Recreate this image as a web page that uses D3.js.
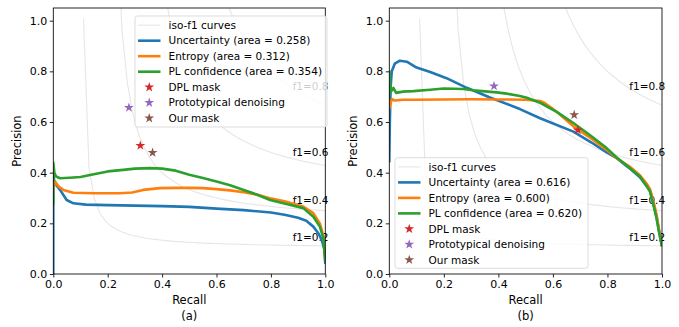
<!DOCTYPE html>
<html><head><meta charset="utf-8">
<script src="https://cdn.jsdelivr.net/npm/d3@7/dist/d3.min.js"></script>
<style>body{margin:0;background:#fff}svg{display:block}text{font-family:"DejaVu Sans",sans-serif}</style>
</head><body><svg id="c" width="679" height="327"></svg>
<script>
// ---------- data ----------
const tickValues = [0.0, 0.2, 0.4, 0.6, 0.8, 1.0];
const isoF1Values = [0.2, 0.4, 0.6, 0.8];
const seriesNames = ["Uncertainty", "Entropy", "PL confidence"];
const markerNames = ["DPL mask", "Prototypical denoising", "Our mask"];
const areasA = [0.258, 0.312, 0.354];
const areasB = [0.616, 0.600, 0.620];

// panel (a)
const recA_unc = [0, 0, 0.003, 0.012, 0.025, 0.049, 0.074, 0.12, 0.2, 0.3, 0.4, 0.5, 0.6, 0.7, 0.8, 0.85, 0.9, 0.93, 0.956, 0.975, 0.987, 0.997, 1.0];
const preA_unc = [0.0, 0.39, 0.37, 0.35, 0.332, 0.292, 0.279, 0.274, 0.272, 0.27, 0.268, 0.265, 0.258, 0.252, 0.243, 0.234, 0.222, 0.21, 0.187, 0.16, 0.134, 0.095, 0.04];
const recA_ent = [0, 0.003, 0.006, 0.02, 0.037, 0.074, 0.15, 0.245, 0.29, 0.33, 0.392, 0.45, 0.5, 0.55, 0.6, 0.65, 0.7, 0.75, 0.797, 0.85, 0.919, 0.956, 0.98, 0.993, 1.0];
const preA_ent = [0.33, 0.35, 0.365, 0.345, 0.332, 0.321, 0.319, 0.319, 0.322, 0.332, 0.339, 0.34, 0.34, 0.339, 0.335, 0.33, 0.323, 0.313, 0.299, 0.287, 0.266, 0.24, 0.2, 0.15, 0.06];
const recA_pl  = [0, 0, 0.004, 0.01, 0.025, 0.06, 0.1, 0.135, 0.2, 0.257, 0.3, 0.355, 0.4, 0.45, 0.5, 0.55, 0.6, 0.65, 0.7, 0.75, 0.797, 0.85, 0.919, 0.956, 0.98, 0.993, 1.0];
const preA_pl  = [0.27, 0.44, 0.40, 0.385, 0.378, 0.38, 0.383, 0.391, 0.405, 0.411, 0.416, 0.418, 0.416, 0.408, 0.392, 0.379, 0.365, 0.35, 0.332, 0.313, 0.292, 0.278, 0.26, 0.226, 0.187, 0.14, 0.05];
const markerRecA = [0.32, 0.278, 0.365];
const markerPreA = [0.507, 0.657, 0.479];

// panel (b)
const recB_unc = [0, 0.002, 0.005, 0.009, 0.02, 0.039, 0.064, 0.1, 0.15, 0.21, 0.284, 0.369, 0.479, 0.553, 0.675, 0.74, 0.797, 0.834, 0.88, 0.919, 0.945, 0.956, 0.968, 0.98, 0.99, 1.0];
const preB_unc = [0.44, 0.6, 0.74, 0.8, 0.83, 0.842, 0.838, 0.815, 0.797, 0.773, 0.735, 0.697, 0.651, 0.615, 0.562, 0.52, 0.48, 0.457, 0.418, 0.382, 0.345, 0.33, 0.28, 0.225, 0.165, 0.11];
const recB_ent = [0, 0.003, 0.01, 0.02, 0.05, 0.1, 0.2, 0.3, 0.4, 0.5, 0.553, 0.57, 0.614, 0.675, 0.74, 0.797, 0.834, 0.88, 0.919, 0.945, 0.956, 0.968, 0.98, 0.99, 1.0];
const preB_ent = [0.65, 0.67, 0.69, 0.685, 0.688, 0.688, 0.689, 0.69, 0.689, 0.688, 0.683, 0.675, 0.64, 0.583, 0.535, 0.49, 0.457, 0.425, 0.39, 0.355, 0.335, 0.29, 0.235, 0.17, 0.11];
const recB_pl  = [0, 0, 0.005, 0.01, 0.015, 0.025, 0.05, 0.088, 0.15, 0.2, 0.271, 0.308, 0.394, 0.43, 0.479, 0.504, 0.553, 0.614, 0.675, 0.74, 0.797, 0.834, 0.88, 0.919, 0.945, 0.956, 0.968, 0.98, 0.99, 1.0];
const preB_pl  = [0.69, 0.80, 0.72, 0.725, 0.735, 0.715, 0.72, 0.722, 0.727, 0.732, 0.73, 0.725, 0.717, 0.712, 0.703, 0.696, 0.676, 0.64, 0.596, 0.545, 0.497, 0.46, 0.42, 0.385, 0.345, 0.325, 0.275, 0.22, 0.16, 0.11];
const markerRecB = [0.691, 0.384, 0.678];
const markerPreB = [0.568, 0.742, 0.628];

// ---------- styles / layout ----------
const lineColors = ["#1f77b4", "#ff7f0e", "#2ca02c"];
const markerColors = ["#d62728", "#9467bd", "#8c564b"];
const isoColor = "rgba(128,128,128,0.2)";
const FS = 10.5, TFS = 11, LFS = 11.5;

const panels = [
  { id: "a", left: 53.3, right: 325.3, top: 8, bottom: 274,
    series: [[recA_unc, preA_unc], [recA_ent, preA_ent], [recA_pl, preA_pl]], areas: areasA,
    mRec: markerRecA, mPre: markerPreA,
    legend: { x: 135, y: 16, w: 192, h: 111 }, ylab: 16.5, xlabX: 189.3 },
  { id: "b", left: 389.3, right: 662, top: 8, bottom: 274,
    series: [[recB_unc, preB_unc], [recB_ent, preB_ent], [recB_pl, preB_pl]], areas: areasB,
    mRec: markerRecB, mPre: markerPreB,
    legend: { x: 395, y: 157.7, w: 193, h: 110.6 }, ylab: 353, xlabX: 525.6 }
];

const svg = d3.select("#c");
const star = d3.symbol().type(d3.symbolStar).size(30);

panels.forEach((p, pi) => {
  const x = d3.scaleLinear().domain([0, 1]).range([p.left, p.right]);
  const y = d3.scaleLinear().domain([0, 1.05]).range([p.bottom, p.top]);
  const g = svg.append("g");
  const clipId = "clip" + p.id;
  g.append("clipPath").attr("id", clipId).append("rect")
    .attr("x", p.left).attr("y", p.top).attr("width", p.right - p.left).attr("height", p.bottom - p.top);

  const line = d3.line().x(d => x(d[0])).y(d => y(d[1]));

  // iso-f1 curves
  const xs = d3.range(50).map(i => 0.01 + i * 0.99 / 49);
  isoF1Values.forEach(f => {
    const pts = xs.map(v => [v, f * v / (2 * v - f)]).filter(d => d[1] >= 0 && 2 * d[0] - f > 0);
    g.append("path").attr("d", line(pts)).attr("fill", "none")
      .attr("stroke", isoColor).attr("stroke-width", 1.1).attr("clip-path", `url(#${clipId})`);
    const yl = f * xs[45] / (2 * xs[45] - f) + 0.02;
    g.append("text").attr("x", x(0.88)).attr("y", y(yl)).attr("font-size", FS).attr("fill", "#000")
      .text("f1=" + f.toFixed(1));
  });

  // curves
  p.series.forEach((s, si) => {
    const pts = s[0].map((r, i) => [r, s[1][i]]);
    g.append("path").attr("d", line(pts)).attr("fill", "none")
      .attr("stroke", lineColors[si]).attr("stroke-width", 2.6)
      .attr("stroke-linejoin", "round").attr("clip-path", `url(#${clipId})`);
  });

  // markers
  p.mRec.forEach((r, i) => {
    g.append("path").attr("d", star).attr("fill", markerColors[i])
      .attr("transform", `translate(${x(r)},${y(p.mPre[i])})`);
  });

  // axes
  const ax = g.append("g").attr("transform", `translate(0,${p.bottom})`)
    .call(d3.axisBottom(x).tickValues(tickValues).tickFormat(d3.format(".1f")).tickSize(3.5).tickPadding(2.5));
  const ay = g.append("g").attr("transform", `translate(${p.left},0)`)
    .call(d3.axisLeft(y).tickValues(tickValues).tickFormat(d3.format(".1f")).tickSize(3.5).tickPadding(2.5));
  [ax, ay].forEach(a => {
    a.select(".domain").remove();
    a.selectAll("text").attr("font-size", TFS).attr("font-family", "DejaVu Sans").attr("fill", "#000");
    a.selectAll("line").attr("stroke", "#000").attr("stroke-width", 0.85);
  });
  g.append("rect").attr("x", p.left).attr("y", p.top).attr("width", p.right - p.left)
    .attr("height", p.bottom - p.top).attr("fill", "none").attr("stroke", "#000").attr("stroke-width", 0.85);

  // labels
  svg.append("text").attr("transform", `translate(${p.ylab},${(p.top + p.bottom) / 2}) rotate(-90)`)
    .attr("text-anchor", "middle").attr("dy", "0.35em").attr("font-size", LFS).text("Precision");
  svg.append("text").attr("x", p.xlabX).attr("y", 300).attr("dy", "0.35em")
    .attr("text-anchor", "middle").attr("font-size", LFS).text("Recall");
  svg.append("text").attr("x", p.xlabX).attr("y", 316).attr("dy", "0.35em")
    .attr("text-anchor", "middle").attr("font-size", LFS).text(`(${p.id})`);

  // legend
  const L = p.legend;
  const lg = svg.append("g");
  lg.append("rect").attr("x", L.x).attr("y", L.y).attr("width", L.w).attr("height", L.h)
    .attr("rx", 2.5).attr("fill", "rgba(255,255,255,0.8)").attr("stroke", "#d6d6d6").attr("stroke-width", 0.85);
  const rowH = 15.5, row0 = L.y + 9.2, hx0 = L.x + 3, hx1 = L.x + 25.5, tx = L.x + 33.5;
  const items = [{ label: "iso-f1 curves", type: "line", color: isoColor, w: 1.1 }]
    .concat(seriesNames.map((n, i) => ({ label: `${n} (area = ${p.areas[i].toFixed(3)})`, type: "line", color: lineColors[i], w: 2.6 })))
    .concat(markerNames.map((n, i) => ({ label: n, type: "star", color: markerColors[i] })));
  items.forEach((it, i) => {
    const yy = row0 + i * rowH;
    if (it.type === "line") {
      lg.append("line").attr("x1", hx0).attr("x2", hx1).attr("y1", yy).attr("y2", yy)
        .attr("stroke", it.color).attr("stroke-width", it.w);
    } else {
      lg.append("path").attr("d", star).attr("fill", it.color)
        .attr("transform", `translate(${(hx0 + hx1) / 2},${yy})`);
    }
    lg.append("text").attr("x", tx).attr("y", yy).attr("dy", "0.35em").attr("font-size", FS).text(it.label);
  });
});
</script>
</body></html>
